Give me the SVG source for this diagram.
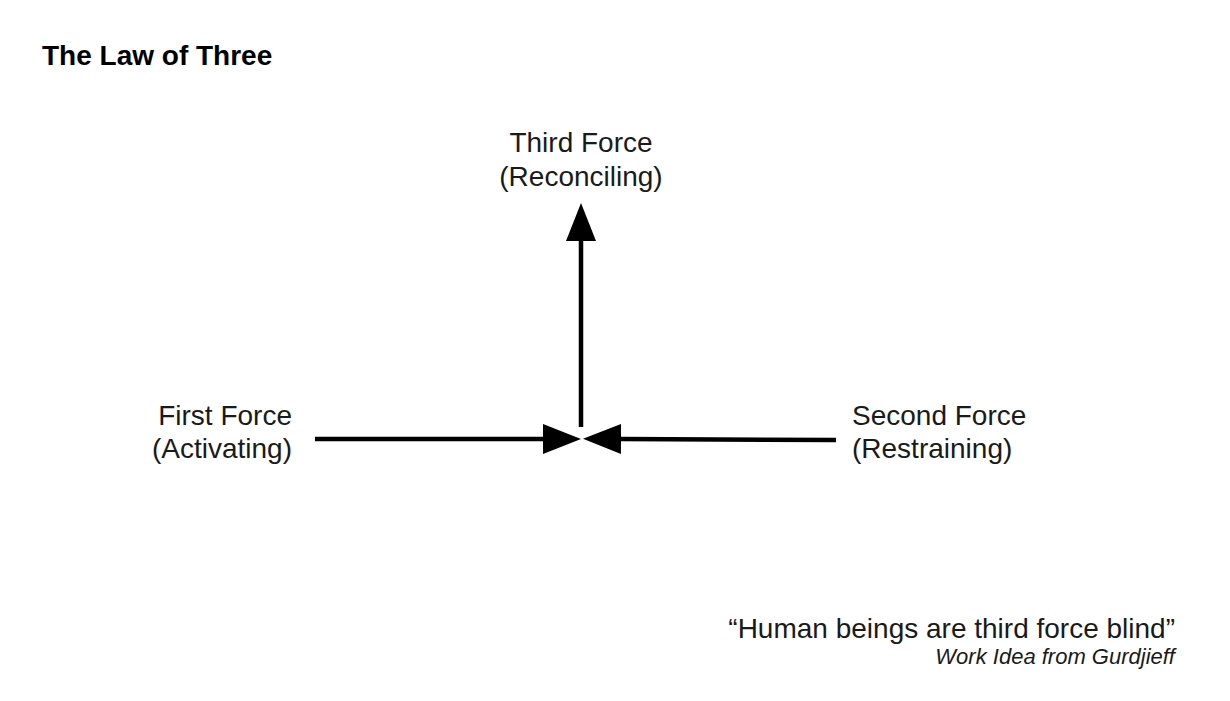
<svg xmlns="http://www.w3.org/2000/svg" width="1230" height="701" viewBox="0 0 1230 701">
<defs>
<style>
.t{font-family:"Liberation Sans",Arial,sans-serif;fill:#1a1a1a;}
.lbl{font-size:28px;}
.title{font-size:28px;font-weight:bold;fill:#000;}
.cite{font-size:22px;font-style:italic;}
.arr{stroke:#000;stroke-width:4.5;fill:none;marker-end:url(#head);}
</style>
<marker id="head" viewBox="0 0 38 30" refX="0" refY="15" markerWidth="38" markerHeight="30" markerUnits="userSpaceOnUse" orient="auto">
<polygon points="0,0 38,15 0,30" fill="#000"/>
</marker>
</defs>
<rect width="1230" height="701" fill="#fff"/>
<text class="t title" x="42" y="65">The Law of Three</text>
<g id="connectors">
<path class="arr" d="M315,439 L543,439"/>
<path class="arr" d="M836,440 L621,439"/>
<path class="arr" d="M581,427 L581,241"/>
</g>
<g id="third">
<text class="t lbl" x="581" y="152" text-anchor="middle">Third Force</text>
<text class="t lbl" x="581" y="186" text-anchor="middle">(Reconciling)</text>
</g>
<g id="first">
<text class="t lbl" x="292" y="425" text-anchor="end">First Force</text>
<text class="t lbl" x="292" y="458" text-anchor="end">(Activating)</text>
</g>
<g id="second">
<text class="t lbl" x="852" y="425">Second Force</text>
<text class="t lbl" x="852" y="458">(Restraining)</text>
</g>
<g id="quote">
<text class="t lbl" x="1175" y="638" text-anchor="end">“Human beings are third force blind”</text>
<text class="t cite" x="1175" y="664" text-anchor="end">Work Idea from Gurdjieff</text>
</g>
</svg>
